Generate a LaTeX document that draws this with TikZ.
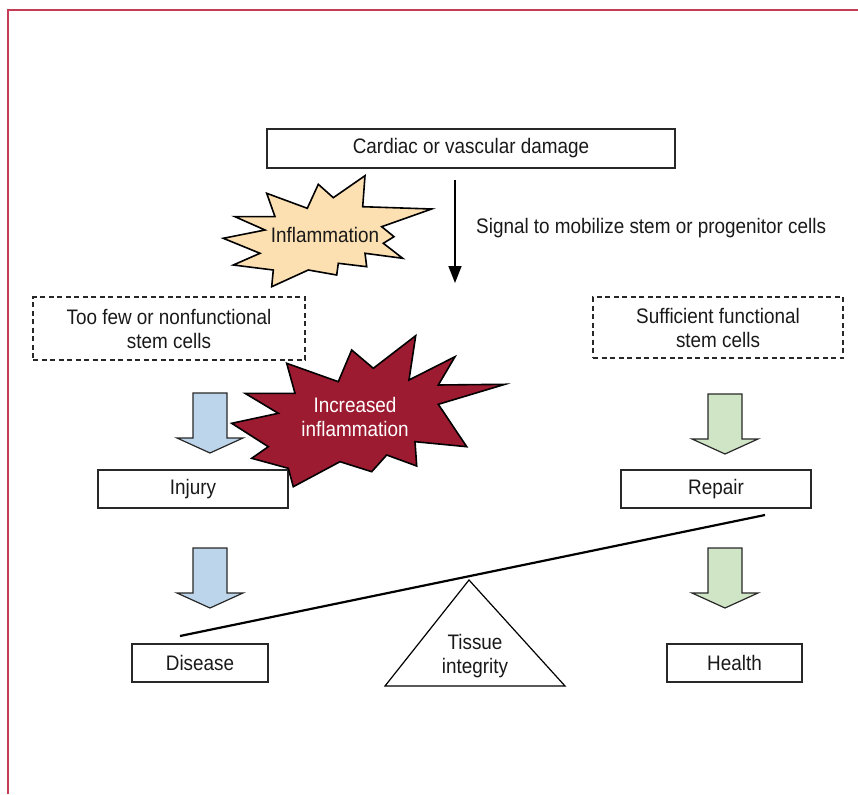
\documentclass[tikz,border=0pt]{standalone}
\usepackage{fontspec}
\setmainfont{Liberation Sans}[FakeStretch=0.9]
\usetikzlibrary{arrows.meta}
\definecolor{framered}{RGB}{196,60,86}
\definecolor{peach}{RGB}{253,224,178}
\definecolor{wine}{RGB}{156,27,49}
\definecolor{paleblue}{RGB}{189,213,234}
\definecolor{palegreen}{RGB}{208,228,198}
\definecolor{edge}{RGB}{40,40,40}
\newcommand{\labelsize}{\fontsize{21}{24}\selectfont}
\tikzstyle{box}=[draw=edge, line width=1.2pt, inner sep=0, align=center, font=\labelsize, text=black!90]
\tikzstyle{dashbox}=[box, dash pattern=on 5pt off 3.5pt]
\tikzstyle{burst}=[draw=black, line width=1.6pt, line join=miter, miter limit=20]
\tikzstyle{plain}=[inner sep=0, align=center, font=\labelsize, text=black!90]
\tikzset{blockdown/.pic={
    % shaft 34 wide, head 66 wide, 60 long
    \path[pic actions] (-17,0) -- (17,0) -- (17,45) -- (33,45) -- (0,60) -- (-33,45) -- (-17,45) -- cycle;}}

\begin{document}
\begin{tikzpicture}[x=1pt, y=-1pt]
    \useasboundingbox (0,0) rectangle (858,794);
    % frame
    \draw[framered, line width=1.5pt] (8,794) -- (8,10) -- (858,10);

    \node[box, minimum width=408, minimum height=39] (damage) at (471,148.5) {Cardiac or vascular damage};
    \coordinate (sigtop) at (455,180);
    \coordinate (sigend) at (455,283);
    \draw[line width=1.5pt, -{Triangle[length=17pt, width=13pt]}] (sigtop) -- (sigend);
    \node[plain, anchor=west] (signal) at (476,228) {Signal to mobilize stem or progenitor cells};

    \node[dashbox, minimum width=272, minimum height=63] (fewcells) at (169,328.5) {Too few or nonfunctional\\stem cells};
    \node[dashbox, minimum width=250, minimum height=61] (goodcells) at (718,327.5) {Sufficient functional\\stem cells};

    \node[box, minimum width=190, minimum height=38] (injury) at (193,489) {Injury};
    \node[box, minimum width=190, minimum height=38] (repair) at (716,489) {Repair};
    \node[box, minimum width=136, minimum height=38] (disease) at (200,663) {Disease};
    \node[box, minimum width=135, minimum height=38] (health) at (734.5,663) {Health};

    \pic[draw=edge, fill=paleblue, line width=1.2pt] at (210,393) {blockdown};
    \pic[draw=edge, fill=paleblue, line width=1.2pt] at (210,548) {blockdown};
    \pic[draw=edge, fill=palegreen, line width=1.2pt] at (725,394) {blockdown};
    \pic[draw=edge, fill=palegreen, line width=1.2pt] at (725,548) {blockdown};

    % balance
    \coordinate (leverl) at (180,636);
    \coordinate (leverr) at (765,515);
    \draw[line width=2.2pt] (leverl) -- (leverr);
    \draw[line width=1.2pt, line join=miter] (469,580) -- (385,686) -- (565,686) -- cycle;
    \node[plain] (tissue) at (475,656) {Tissue\\integrity};

    % bursts
    \draw[burst, fill=peach] (266.7,193.3) -- (307.3,208.3) -- (318.3,184.3) -- (333.3,197.7) -- (365,175.7)
        -- (362.7,206.7) -- (431.7,209) -- (381.7,226.7) -- (394,236.7) -- (383.3,243.3) -- (402.7,258.3)
        -- (365,253.3) -- (366.7,266.7) -- (338.3,263.3) -- (336.7,275) -- (308.3,270) -- (271.7,286.7)
        -- (273.3,270) -- (233.3,265) -- (260,253.3) -- (223.3,238.3) -- (265,230) -- (235,216.7)
        -- (275,216.7) -- cycle;
    \node[plain] (inflam) at (325,235) {Inflammation};

    \draw[burst, fill=wine] (286.7,363.3) -- (338.3,381.7) -- (351.7,350) -- (373.3,368.3) -- (415.7,335.7)
        -- (409,380) -- (455,356.7) -- (438.3,385) -- (505,384.3) -- (438.3,404.3) -- (466.7,446.7)
        -- (415,441.7) -- (416.7,466) -- (386.7,455) -- (371.7,471.7) -- (340,461.7) -- (293.3,486.7)
        -- (288.3,468.3) -- (251.7,458.3) -- (268.3,446.7) -- (231.7,423.3) -- (278.3,413.3) -- (245,393.3)
        -- (295,393.3) -- cycle;
    \node[plain, text=white] (moreinflam) at (355,417) {Increased\\inflammation};
\end{tikzpicture}
\end{document}
